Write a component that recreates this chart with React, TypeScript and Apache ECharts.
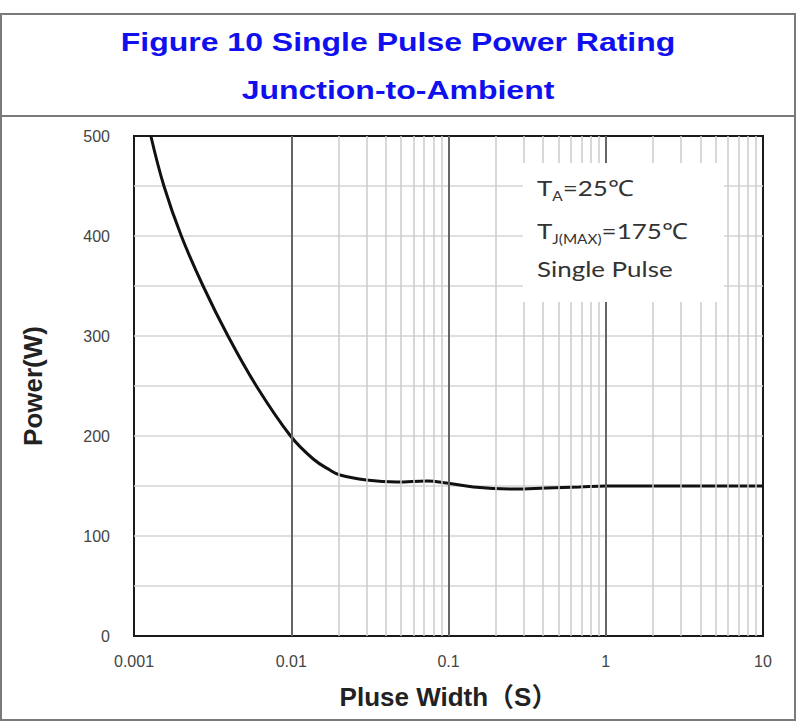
import React, { useEffect, useRef } from "react";
import * as echarts from "echarts";

const pulseWidth = [0.00128, 0.00155, 0.002, 0.00275, 0.00396, 0.006, 0.0099, 0.0138, 0.0176, 0.0204, 0.03, 0.047, 0.073, 0.097, 0.144, 0.26, 0.42, 0.68, 1, 3, 10];
const power = [500, 450, 400, 350, 300, 250, 200, 177, 166, 161, 156, 154, 155, 153, 149, 147, 148, 149, 150, 150, 150];
const xTickLabels = ["0.001", "0.01", "0.1", "1", "10"];
const majorDecades = [0.01, 0.1, 1];
const minorDecades = [0.001, 0.01, 0.1, 1];
const minorSteps = [2, 3, 4, 5, 6, 7, 8, 9];
const titleLines = ["Figure 10 Single Pulse Power Rating", "Junction-to-Ambient"];
const xName = "Pluse Width（S）";
const yName = "Power(W)";

export default function App() {
  const ref = useRef<HTMLDivElement>(null);
  useEffect(() => {
    if (!ref.current) return;
    const chart = echarts.init(ref.current, undefined, { renderer: "svg" });
    const minorValues: number[] = [];
    minorDecades.forEach((d) => minorSteps.forEach((m) => minorValues.push(+(d * m).toPrecision(6))));
    const annoFont = "Lato, 'Open Sans', sans-serif";
    const arial = "'Liberation Sans', Arial, 'Noto Sans CJK SC', sans-serif";
    const mk = { fontSize: 22, fontFamily: annoFont, fill: "#333", lineHeight: 30 };
    const sb = { fontSize: 13, fontFamily: annoFont, fill: "#333", lineHeight: 13, padding: [17, 0, 0, 0], verticalAlign: "top" };
    const option: any = {
      animation: false,
      backgroundColor: "#ffffff",
      grid: { left: 134, right: 33, top: 136, bottom: 88, show: true, borderColor: "#1a1a1a", borderWidth: 2, containLabel: false },
      xAxis: {
        type: "log",
        logBase: 10,
        min: 0.001,
        max: 10,
        name: xName,
        nameLocation: "middle",
        nameGap: 48,
        nameTextStyle: { fontSize: 26, fontWeight: "bold", color: "#222", fontFamily: arial },
        axisLine: { show: false },
        axisTick: { show: false },
        axisLabel: {
          margin: 17,
          fontSize: 16,
          color: "#444",
          fontFamily: arial,
          formatter: (v: number) => xTickLabels[Math.round(Math.log10(v)) + 3] ?? "",
        },
        splitLine: { show: false },
        minorTick: { show: false },
        minorSplitLine: { show: false },
      },
      yAxis: {
        type: "value",
        min: 0,
        max: 500,
        interval: 100,
        name: yName,
        nameLocation: "middle",
        nameGap: 88,
        nameRotate: 90,
        nameTextStyle: { fontSize: 26, fontWeight: "bold", color: "#222", fontFamily: arial },
        axisLine: { show: false },
        axisTick: { show: false },
        axisLabel: { margin: 24, fontSize: 16, color: "#444", fontFamily: arial },
        splitLine: { show: true, showMinLine: false, showMaxLine: false, lineStyle: { color: "#d4d4d4", width: 1.5 } },
        minorTick: { show: false, splitNumber: 2 },
        minorSplitLine: { show: true, lineStyle: { color: "#d4d4d4", width: 1.5 } },
      },
      series: [
        {
          type: "line",
          data: [],
          z: 1,
          silent: true,
          markLine: {
            silent: true,
            animation: false,
            symbol: ["none", "none"],
            label: { show: false },
            lineStyle: { color: "#cbcbcb", width: 1.5, type: "solid" },
            data: minorValues.map((v) => ({ xAxis: v })),
          },
        },
        {
          type: "line",
          data: [],
          z: 2,
          silent: true,
          markLine: {
            silent: true,
            animation: false,
            symbol: ["none", "none"],
            label: { show: false },
            lineStyle: { color: "#666", width: 2, type: "solid" },
            data: majorDecades.map((v) => ({ xAxis: v })),
          },
        },
        {
          type: "line",
          data: pulseWidth.map((x, i) => [x, power[i]]),
          smooth: 0.4,
          showSymbol: false,
          z: 4,
          lineStyle: { color: "#111", width: 3 },
        },
      ],
      graphic: [
        { type: "line", shape: { x1: 0, y1: 14, x2: 796, y2: 14 }, style: { stroke: "#7a7a7a", lineWidth: 2 } },
        { type: "line", shape: { x1: 0, y1: 116, x2: 796, y2: 116 }, style: { stroke: "#7a7a7a", lineWidth: 2 } },
        { type: "line", shape: { x1: 0, y1: 720, x2: 796, y2: 720 }, style: { stroke: "#7a7a7a", lineWidth: 2 } },
        { type: "line", shape: { x1: 1, y1: 14, x2: 1, y2: 720 }, style: { stroke: "#7a7a7a", lineWidth: 2 } },
        { type: "line", shape: { x1: 795, y1: 14, x2: 795, y2: 720 }, style: { stroke: "#7a7a7a", lineWidth: 2 } },
        {
          type: "text", x: 398, y: 42, scaleX: 1.28,
          style: { text: titleLines[0], align: "center", verticalAlign: "middle", fontSize: 25, fontWeight: "bold", fontFamily: arial, fill: "#1010ee" },
        },
        {
          type: "text", x: 398, y: 90, scaleX: 1.28,
          style: { text: titleLines[1], align: "center", verticalAlign: "middle", fontSize: 25, fontWeight: "bold", fontFamily: arial, fill: "#1010ee" },
        },
        { type: "rect", z: 10, shape: { x: 523, y: 163, width: 201, height: 139 }, style: { fill: "#ffffff" } },
        {
          type: "text", z: 11, x: 537, y: 187, scaleX: 1.18,
          style: { text: "{m|T}{s|A}{m|=25℃}", verticalAlign: "middle", rich: { m: mk, s: sb } },
        },
        {
          type: "text", z: 11, x: 537, y: 230, scaleX: 1.18,
          style: { text: "{m|T}{s|J(MAX)}{m|=175℃}", verticalAlign: "middle", rich: { m: mk, s: sb } },
        },
        {
          type: "text", z: 11, x: 537, y: 268, scaleX: 1.18,
          style: { text: "{m|Single Pulse}", verticalAlign: "middle", rich: { m: mk } },
        },
      ],
    };
    chart.setOption(option);
    return () => chart.dispose();
  }, []);
  return <div ref={ref} style={{ position: "fixed", left: 0, top: 0, width: 796, height: 724, background: "#fff" }} />;
}
